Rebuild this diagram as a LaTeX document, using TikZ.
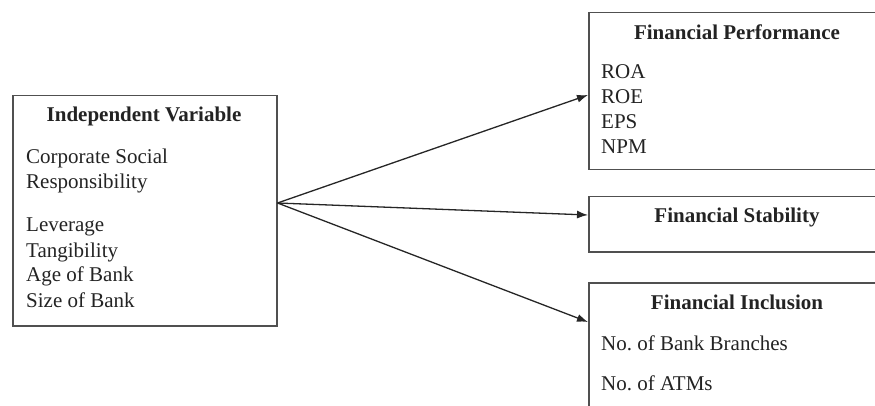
\documentclass[tikz,border=0pt]{standalone}
\usepackage{fontspec}
\setmainfont{Liberation Serif}
\usetikzlibrary{arrows.meta}
\definecolor{boxline}{RGB}{80,80,80}
\definecolor{txt}{RGB}{35,35,35}
\tikzset{
  frame/.style={draw=boxline, line width=1.5pt},
  head/.style={font=\fontsize{21}{24}\selectfont\bfseries, text=txt, inner sep=0pt},
  item/.style={font=\fontsize{21}{24}\selectfont, text=txt, inner sep=0pt, anchor=west},
  link/.style={draw=black!85, line width=1.3pt, -{Latex[length=11pt,width=8pt]}}
}
\begin{document}
\frenchspacing
\begin{tikzpicture}[x=1pt,y=-1pt]
\useasboundingbox (0,0) rectangle (875,406);
% boxes
\node[frame, minimum width=264pt, minimum height=230pt, anchor=north west] (iv) at (12,95) {};
\node[frame, minimum width=300pt, minimum height=157pt, anchor=north west] (fp) at (588,12) {};
\node[frame, minimum width=300pt, minimum height=55pt, anchor=north west] (fs) at (588,196) {};
\node[frame, minimum width=300pt, minimum height=140pt, anchor=north west] (fi) at (588,282) {};
% left box texts
\node[head] (ivh) at (144,116) {Independent Variable};
\node[item] (iv1) at (26,158) {Corporate Social};
\node[item] (iv2) at (26,183) {Responsibility};
\node[item] (iv3) at (26,227) {Leverage};
\node[item] (iv4) at (26,252) {Tangibility};
\node[item] (iv5) at (26,276) {Age of Bank};
\node[item] (iv6) at (26,300) {Size of Bank};
% financial performance
\node[head] (fph) at (737,32) {Financial Performance};
\node[item] (fp1) at (601,72) {ROA};
\node[item] (fp2) at (601,97) {ROE};
\node[item] (fp3) at (601,122) {EPS};
\node[item] (fp4) at (601,147) {NPM};
% financial stability
\node[head] (fsh) at (737,217) {Financial Stability};
% financial inclusion
\node[head] (fih) at (737,302) {Financial Inclusion};
\node[item] (fi1) at (601,343) {No. of Bank Branches};
\node[item] (fi2) at (601,383) {No. of ATMs};
% connectors
\coordinate (src) at (iv.east |- 0,203);
\coordinate (tfp) at (fp.west |- 0,95);
\coordinate (tfs) at (fs.west |- 0,215);
\coordinate (tfi) at (fi.west |- 0,322);
\draw[link] (src) -- (tfp);
\draw[link] (src) -- (tfs);
\draw[link] (src) -- (tfi);
\end{tikzpicture}
\end{document}
